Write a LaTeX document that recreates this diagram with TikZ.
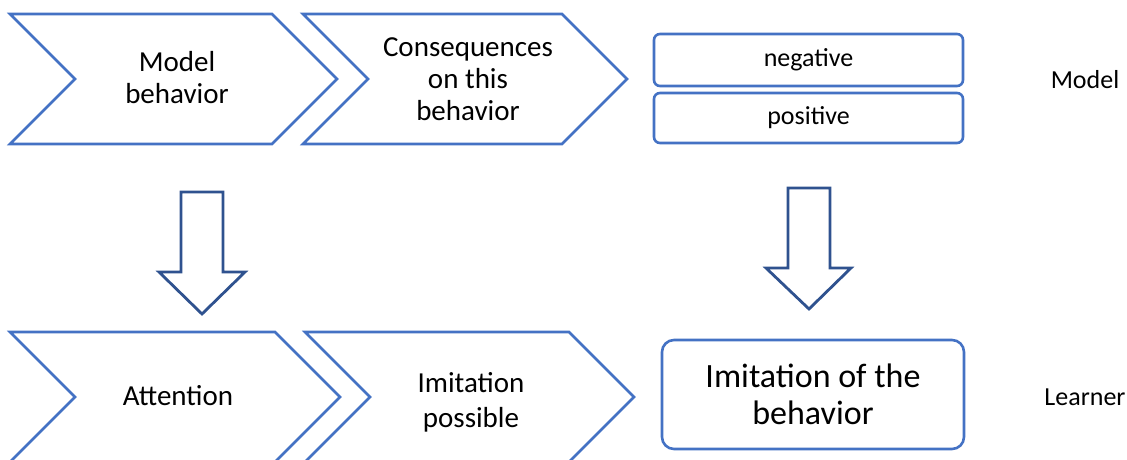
\documentclass[tikz,border=0pt]{standalone}
\usepackage{fontspec}
\setmainfont{Carlito}
\definecolor{chevblue}{HTML}{4472C4}
\definecolor{arrowblue}{HTML}{2F528F}
\begin{document}
\begin{tikzpicture}[x=1pt, y=1pt,
  chev/.style={draw=chevblue, line width=2.6pt, line join=miter, fill=white},
  blockarrow/.style={draw=arrowblue, line width=2.8pt, line join=miter, fill=white},
  chevtext/.style={align=center, font=\fontsize{29}{32}\selectfont},
  tagbox/.style={draw=chevblue, line width=2.6pt, rounded corners=6pt, minimum width=309pt,
    font=\fontsize{26}{30}\selectfont},
  rowlabel/.style={font=\fontsize{26}{30}\selectfont}]
  \useasboundingbox (0,0) rectangle (1127,459);
  % Top row: model
  \draw[chev] (10,445) -- (272,445) -- (337,380) -- (272,315) -- (10,315) -- (75,380) -- cycle;
  \node[chevtext] (modelbeh) at (177,381) {Model\\behavior};
  \draw[chev] (303,445) -- (562,445) -- (627,380) -- (562,315) -- (303,315) -- (368,380) -- cycle;
  \node[chevtext] (conseq) at (468,380) {Consequences\\on this\\behavior};
  \node[tagbox, minimum height=52pt] (neg) at (808.5,399) {negative};
  \node[tagbox, minimum height=50pt] (pos) at (808.5,341) {positive};
  \node[rowlabel] (model) at (1085,379) {Model};
  % Block arrows
  \draw[blockarrow] (181,267) -- (223,267) -- (223,187) -- (245,187) -- (202,145)
    -- (159,187) -- (181,187) -- cycle;
  \draw[blockarrow] (788,271) -- (830,271) -- (830,191) -- (851,191) -- (809,150)
    -- (766,191) -- (788,191) -- cycle;
  % Bottom row: learner
  \draw[chev] (10,127) -- (275,127) -- (340,62) -- (275,-3) -- (10,-3) -- (75,62) -- cycle;
  \node[chevtext] (attention) at (178,63) {Attention};
  \draw[chev] (305,127) -- (569,127) -- (634,62) -- (569,-3) -- (305,-3) -- (370,62) -- cycle;
  \node[chevtext, font=\fontsize{29}{35}\selectfont] (possible) at (471,57) {Imitation\\possible};
  \node[draw=chevblue, line width=2.6pt, rounded corners=12pt, minimum width=302pt,
    minimum height=109pt, align=center, font=\fontsize{34}{37}\selectfont]
    (imitation) at (813,64.5) {Imitation of the\\behavior};
  \node[rowlabel] (learner) at (1085,62) {Learner};
\end{tikzpicture}
\end{document}
